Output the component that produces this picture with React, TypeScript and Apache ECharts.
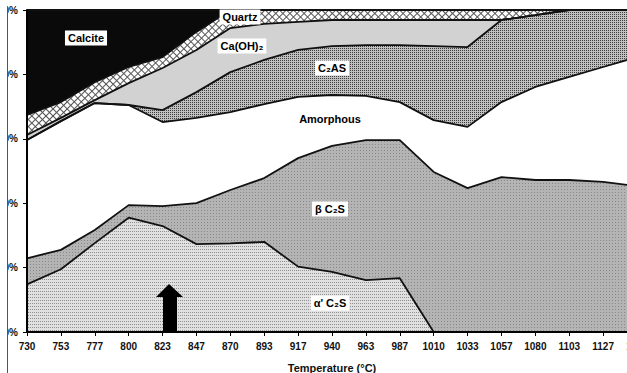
import React, { useEffect, useRef } from "react";
import * as echarts from "echarts";

const categories = ["730","753","777","800","823","847","870","893","917","940","963","987","1010","1033","1057","1080","1103","1127","1150"];
const alphaC2S = [14.8,19.5,27.6,35.5,32.9,27.3,27.5,28.0,20.3,18.7,16.1,16.7,0,0,0,0,0,0,0];
const betaC2S = [8.1,6.0,4.1,3.9,6.2,12.7,16.6,19.8,33.7,39.1,43.5,42.9,49.7,44.7,48.1,47.2,47.2,46.6,45.3];
const amorphous = [36.7,40.0,39.4,31.1,26.1,26.5,24.2,23.0,19.0,15.8,13.7,11.8,16.1,19.0,23.3,28.9,32.0,35.7,40.1];
const c2as = [0,0,0,0,3.7,8.0,12.4,13.7,14.6,15.2,15.8,17.7,23.0,24.8,25.5,22.3,20.8,17.7,14.6];
const caoh2 = [1.6,1.0,0.9,6.8,13.1,13.1,13.7,11.2,8.7,8.1,7.8,7.8,8.1,8.4,0,0,0,0,0];
const quartz = [6.2,4.9,5.6,5.0,3.4,5.6,5.6,4.3,3.7,3.1,3.1,3.1,3.1,3.1,3.1,1.6,0,0,0];
const calcite = [32.6,28.6,22.4,17.7,14.6,6.8,0,0,0,0,0,0,0,0,0,0,0,0,0];
const yTicks = [0, 20, 40, 60, 80, 100];

const FONT = "'Liberation Sans', Arial, sans-serif";

function mk(name: string, data: number[], fill: string, decal?: any) {
  return {
    name,
    type: "line",
    stack: "total",
    data,
    symbol: "none",
    silent: true,
    lineStyle: { color: "#111", width: 1.8 },
    areaStyle: { color: fill, opacity: 1 },
    itemStyle: decal ? { color: fill, decal } : { color: fill },
    z: 2,
  };
}

function label(text: string, x: number, y: number) {
  return {
    type: "text",
    z: 100,
    style: {
      text,
      x,
      y,
      fill: "#000",
      font: `bold 11px ${FONT}`,
      align: "center",
      verticalAlign: "middle",
      backgroundColor: "#fff",
      padding: [2, 3],
    },
  };
}

export default function App() {
  const ref = useRef<HTMLDivElement>(null);
  useEffect(() => {
    if (!ref.current) return;
    const chart = echarts.init(ref.current, null, { renderer: "svg" });
    chart.setOption({
      animation: false,
      backgroundColor: "#fff",
      grid: { left: 27, right: 23, top: 10, bottom: 41, containLabel: false, outerBoundsMode: "none" },
      xAxis: {
        type: "category",
        data: categories,
        boundaryGap: false,
        name: "Temperature (°C)",
        nameLocation: "middle",
        nameGap: 30,
        nameTextStyle: { fontFamily: FONT, fontWeight: "bold", fontSize: 11, color: "#111" },
        axisLine: { lineStyle: { color: "#000", width: 2 } },
        axisTick: { length: 4, lineStyle: { color: "#000" } },
        axisLabel: { fontFamily: FONT, fontWeight: "bold", fontSize: 10, color: "#111", margin: 9, interval: 0 },
        splitLine: { show: false },
        z: 10,
      },
      yAxis: {
        type: "value",
        min: 0,
        max: 100,
        interval: 20,
        axisLine: { show: true, lineStyle: { color: "#000", width: 2 } },
        axisTick: { show: true, length: 4, lineStyle: { color: "#000" } },
        axisLabel: {
          fontFamily: FONT,
          fontWeight: "bold",
          fontSize: 10,
          color: "#111",
          margin: 9,
          formatter: (v: number) => (yTicks.includes(v) ? `${v}%` : ""),
        },
        splitLine: { show: false },
        z: 10,
      },
      series: [
        mk("α' C2S", alphaC2S, "#e0e0e0", {
          symbol: "rect", symbolSize: 1, dashArrayX: [1, 1], dashArrayY: [1, 2], color: "#8f8f8f",
        }),
        mk("β C2S", betaC2S, "#b4b4b4", {
          symbol: "rect", symbolSize: 1, dashArrayX: [1, 2], dashArrayY: [1, 2], color: "#888888",
        }),
        mk("Amorphous", amorphous, "#ffffff"),
        mk("C2AS", c2as, "#c0c0c0", {
          symbol: "rect", symbolSize: 1, dashArrayX: [1, 1], dashArrayY: [1, 1], color: "#3c3c3c",
        }),
        mk("Ca(OH)2", caoh2, "#d2d2d2"),
        mk("Quartz", quartz, "#555555", {
          symbol: "rect", symbolSize: 1, dashArrayX: [4, 1], dashArrayY: [4, 1], color: "#ffffff", rotation: Math.PI / 4,
        }),
        mk("Calcite", calcite, "#0a0a0a"),
      ],
      graphic: [
        {
          type: "polygon",
          z: 100,
          shape: { points: [[156, 297], [169, 284], [183, 297], [177, 297], [177, 331], [163, 331], [163, 297]] },
          style: { fill: "#000" },
        },
        label("Calcite", 86, 38),
        label("Quartz", 240, 17),
        label("Ca(OH)₂", 242, 46),
        label("C₂AS", 332, 68),
        label("Amorphous", 330, 119),
        label("β C₂S", 330, 209),
        label("α' C₂S", 330, 303),
        { type: "rect", z: 200, shape: { x: 0, y: 0, width: 7, height: 373 }, style: { fill: "#fff" } },
        { type: "line", z: 200, shape: { x1: 7.5, y1: 7, x2: 7.5, y2: 373 }, style: { stroke: "#555", lineWidth: 1 } },
      ],
    });
    return () => chart.dispose();
  }, []);
  return (
    <div style={{ position: "fixed", left: 0, top: 0, width: 627, height: 373, overflow: "hidden", background: "#fff" }}>
      <div ref={ref} style={{ width: 660, height: 373 }} />
    </div>
  );
}
